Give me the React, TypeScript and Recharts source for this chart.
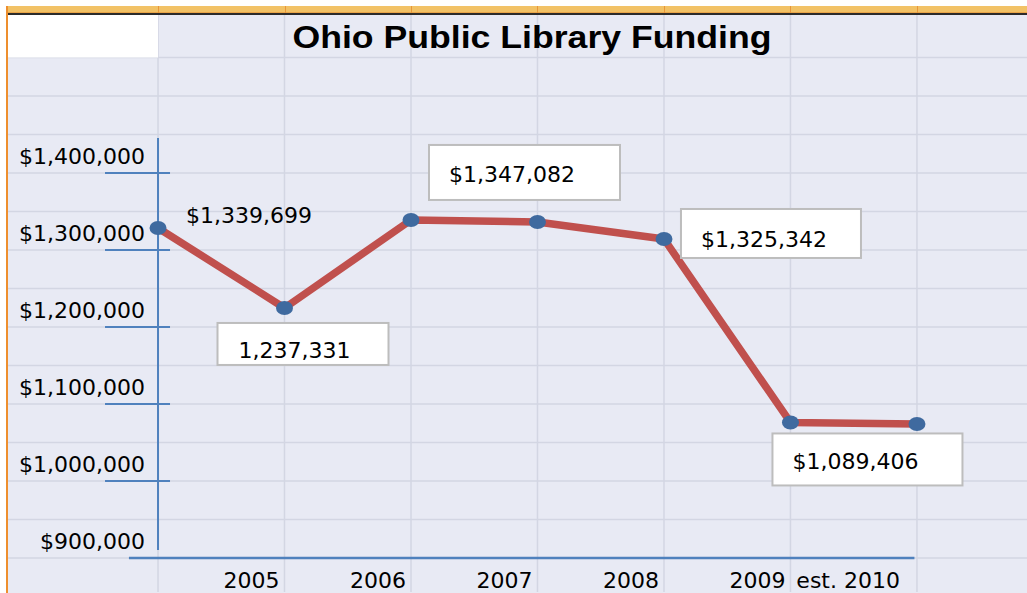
import React from 'react';
import {
  LineChart,
  Line,
  XAxis,
  YAxis,
  CartesianGrid,
  ReferenceLine,
  ReferenceArea,
  LabelList,
} from 'recharts';

// ---------- data ----------
const CATEGORIES = ['', '2005', '2006', '2007', '2008', '2009', 'est. 2010'];
const FUNDING = [1328600, 1224700, 1339000, 1336400, 1314300, 1076000, 1074000];
const DATA_LABELS = ['$1,339,699', '1,237,331', '$1,347,082', '', '$1,325,342', '$1,089,406', ''];
const Y_TICKS = [900000, 1000000, 1100000, 1200000, 1300000, 1400000];
const GRID_ROWS = [
  900000, 950000, 1000000, 1050000, 1100000, 1150000, 1200000, 1250000, 1300000, 1350000,
  1400000, 1450000, 1500000, 1550000,
];
const GRID_COLS = [0, 1, 2, 3, 4, 5, 6];
const TITLE = 'Ohio Public Library Funding';

// ---------- layout ----------
const W = 1027;
const H = 593;
const MARGIN = { top: 15, right: 0, bottom: 0, left: 7 };
const Y_AXIS_W = 1;
const X_AXIS_H = 1;
const PLOT_LEFT = MARGIN.left + Y_AXIS_W;
const X_DOMAIN: [number, number] = [-1.186, 6.87];
const Y_DOMAIN: [number, number] = [855800, 1605200];
const PX_PER_INDEX = (W - PLOT_LEFT - MARGIN.right) / (X_DOMAIN[1] - X_DOMAIN[0]);
const AXIS_OFFSET = (0 - X_DOMAIN[0]) * PX_PER_INDEX;

const FONT = '"DejaVu Sans", sans-serif';
const FS = 22;
const BG = '#E8EAF4';
const GRID = '#D3D6E3';
const AXIS = '#4F81BD';
const RED = '#C0504D';
const MARK = '#3F6A9F';

const LABEL_LAYOUT: Array<null | { tx: number; ty: number; box?: { x: number; y: number; w: number; h: number } }> = [
  { tx: 28, ty: -5 },
  { tx: -46, ty: 50, box: { x: -67, y: 15, w: 171, h: 42 } },
  { tx: 38, ty: -38, box: { x: 18, y: -75, w: 191, h: 55 } },
  null,
  { tx: 37, ty: 8, box: { x: 17, y: -30, w: 180, h: 49 } },
  { tx: 2, ty: 47, box: { x: -18, y: 11, w: 190, h: 52 } },
  null,
];

const data = CATEGORIES.map((category, i) => ({
  i,
  category,
  funding: FUNDING[i],
  label: DATA_LABELS[i],
}));

const fmtMoney = (v: number) => '$' + v.toLocaleString('en-US');

const YTick = (props: any) => {
  const { y, payload } = props;
  const ax = PLOT_LEFT + AXIS_OFFSET;
  return (
    <g>
      {payload.value !== Y_TICKS[0] && (
        <line x1={ax - 53} x2={ax + 12} y1={y} y2={y} stroke={AXIS} strokeWidth={2} />
      )}
      <text x={ax - 13} y={y - 9} textAnchor="end" fontFamily={FONT} fontSize={FS} fill="#000">
        {fmtMoney(payload.value)}
      </text>
    </g>
  );
};

const XTick = (props: any) => {
  const { x, payload } = props;
  const idx = payload.value as number;
  const label = CATEGORIES[idx];
  if (!label) return <g />;
  const shift = idx === CATEGORIES.length - 1 ? 17 : 5;
  return (
    <text x={x - shift} y={H - 5} textAnchor="end" fontFamily={FONT} fontSize={FS} fill="#000">
      {label}
    </text>
  );
};

const Marker = (props: any) => {
  const { cx, cy } = props;
  if (cx == null || cy == null) return <g />;
  return <ellipse cx={cx} cy={cy} rx={8.5} ry={7} fill={MARK} />;
};

const DataLabel = (props: any) => {
  const { x, y, index } = props;
  const text = DATA_LABELS[index];
  const lay = LABEL_LAYOUT[index];
  if (!text || !lay) return <g />;
  return (
    <g>
      {lay.box && (
        <rect
          x={x + lay.box.x}
          y={y + lay.box.y}
          width={lay.box.w}
          height={lay.box.h}
          fill="#FFFFFF"
          stroke="#BDBDBD"
          strokeWidth={2}
        />
      )}
      <text x={x + lay.tx} y={y + lay.ty} fontFamily={FONT} fontSize={FS} fill="#000">
        {text}
      </text>
    </g>
  );
};

export default function App() {
  const colXs = GRID_COLS.map((c) => PLOT_LEFT + AXIS_OFFSET + c * PX_PER_INDEX);
  return (
    <div style={{ position: 'absolute', left: 0, top: 0, width: W, height: H, background: BG, overflow: 'hidden' }}>
      <LineChart width={W} height={H} data={data} margin={MARGIN}>
        <CartesianGrid
          fill={BG}
          fillOpacity={1}
          stroke={GRID}
          strokeWidth={1.5}
          horizontalValues={GRID_ROWS}
          verticalValues={GRID_COLS}
        />
        <ReferenceArea
          x1={X_DOMAIN[0]}
          x2={0}
          y1={1550000}
          y2={Y_DOMAIN[1]}
          fill="#FFFFFF"
          fillOpacity={1}
          stroke="none"
          ifOverflow="visible"
        />
        <XAxis
          dataKey="i"
          type="number"
          domain={X_DOMAIN}
          allowDataOverflow
          ticks={GRID_COLS}
          interval={0}
          height={X_AXIS_H}
          tickSize={0}
          tickMargin={0}
          axisLine={false}
          tickLine={false}
          tick={<XTick />}
        />
        <YAxis
          type="number"
          domain={Y_DOMAIN}
          allowDataOverflow
          ticks={Y_TICKS}
          interval={0}
          width={Y_AXIS_W}
          tickSize={0}
          tickMargin={0}
          axisLine={false}
          tickLine={false}
          tick={<YTick />}
        />
        <ReferenceLine
          segment={[
            { x: 0, y: 910400 },
            { x: 0, y: 1445500 },
          ]}
          stroke={AXIS}
          strokeWidth={2}
          ifOverflow="visible"
        />
        <ReferenceLine
          segment={[
            { x: -0.23, y: 900000 },
            { x: 5.98, y: 900000 },
          ]}
          stroke={AXIS}
          strokeWidth={2.5}
          ifOverflow="visible"
        />
        <Line
          dataKey="funding"
          stroke="none"
          dot={<Marker />}
          activeDot={false}
          isAnimationActive={false}
        />
        <Line
          dataKey="funding"
          stroke={RED}
          strokeWidth={7.5}
          strokeLinejoin="round"
          strokeLinecap="round"
          dot={false}
          activeDot={false}
          isAnimationActive={false}
        >
          <LabelList dataKey="label" content={<DataLabel />} />
        </Line>
      </LineChart>

      {/* spreadsheet frame */}
      <div style={{ position: 'absolute', left: 0, top: 0, width: W, height: 6, background: '#FFFFFF' }} />
      <div style={{ position: 'absolute', left: 0, top: 0, width: 6, height: H, background: '#FFFFFF' }} />
      <div style={{ position: 'absolute', left: 6, top: 6, width: W - 6, height: 6, background: '#F2C266' }} />
      <div style={{ position: 'absolute', left: 6, top: 12, width: W - 6, height: 1, background: '#E9A447' }} />
      <div style={{ position: 'absolute', left: 8, top: 13, width: W - 8, height: 2, background: '#2B2B2B' }} />
      {colXs.map((x, k) => (
        <div key={k} style={{ position: 'absolute', left: Math.round(x), top: 6, width: 1, height: 7, background: '#E8963A' }} />
      ))}
      <div style={{ position: 'absolute', left: 6, top: 6, width: 2, height: H - 6, background: '#EE8F2E' }} />

      <svg
        width={W}
        height={60}
        style={{ position: 'absolute', left: 0, top: 0, pointerEvents: 'none' }}
      >
        <text
          x={532}
          y={48}
          textAnchor="middle"
          fontFamily='"Liberation Sans", Arial, sans-serif'
          fontWeight="bold"
          fontSize={31}
          textLength={479}
          lengthAdjust="spacingAndGlyphs"
          fill="#000"
        >
          {TITLE}
        </text>
      </svg>
    </div>
  );
}
